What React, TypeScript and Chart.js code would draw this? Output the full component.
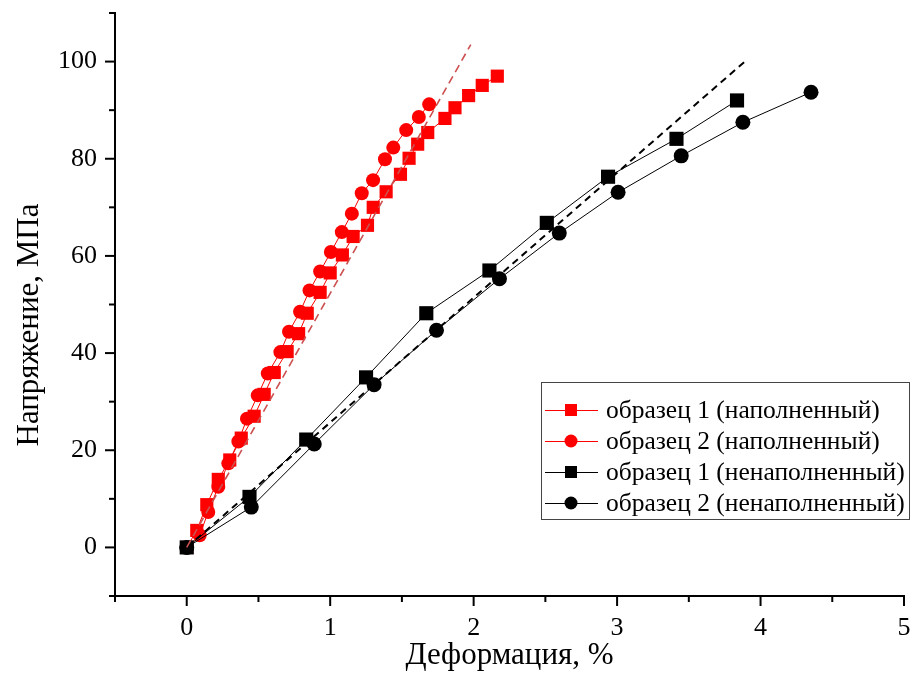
import React, { useEffect, useRef } from 'react';
import { Chart, registerables } from 'chart.js';

Chart.register(...registerables);

// ---- data ----
const filled1X = [0, 0.07, 0.14, 0.22, 0.3, 0.38, 0.47, 0.54, 0.61, 0.7, 0.78, 0.84, 0.93, 1.0, 1.085, 1.16, 1.26, 1.3, 1.39, 1.49, 1.55, 1.61, 1.68, 1.8, 1.87, 1.965, 2.06, 2.165];
const filled1Y = [0, 3.5, 8.8, 14, 18, 22.5, 27, 31.5, 36, 40.3, 44, 48.2, 52.5, 56.5, 60.2, 64, 66.3, 70, 73.2, 76.8, 80.1, 83, 85.4, 88.3, 90.5, 93, 95.1, 97];

const filled2X = [0, 0.09, 0.15, 0.22, 0.29, 0.36, 0.42, 0.495, 0.565, 0.653, 0.713, 0.79, 0.856, 0.93, 1.005, 1.081, 1.151, 1.22, 1.299, 1.382, 1.44, 1.53, 1.618, 1.69];
const filled2Y = [0, 2.5, 7.3, 12.5, 17.3, 21.8, 26.5, 31.3, 35.8, 40.2, 44.4, 48.5, 52.9, 56.8, 60.8, 64.9, 68.7, 72.9, 75.6, 79.9, 82.3, 85.9, 88.6, 91.2];

const unfilled1X = [0, 0.4375, 0.833, 1.25, 1.67, 2.11, 2.51, 2.937, 3.414, 3.836];
const unfilled1Y = [0, 10.4, 22.2, 35.0, 48.2, 57.0, 66.8, 76.3, 84.1, 92.0];

const unfilled2X = [0, 0.45, 0.889, 1.306, 1.741, 2.18, 2.597, 3.007, 3.447, 3.877, 4.352];
const unfilled2Y = [0, 8.3, 21.3, 33.5, 44.7, 55.3, 64.7, 73.1, 80.6, 87.5, 93.7];

const fitFilledX = [0, 1.98];
const fitFilledY = [0, 103.5];
const fitUnfilledX = [0, 3.89];
const fitUnfilledY = [0, 100];

const xTickLabels = [0, 1, 2, 3, 4, 5];
const yTickLabels = [0, 20, 40, 60, 80, 100];

const seriesNames = [
  'образец 1 (наполненный)',
  'образец 2 (наполненный)',
  'образец 1 (ненаполненный)',
  'образец 2 (ненаполненный)',
];
const xTitle = 'Деформация, %';
const yTitle = 'Напряжение, МПа';

const RED = '#ff0000';
const BLACK = '#000000';
const FONT = '"Liberation Serif", "Times New Roman", serif';

const pts = (xs: number[], ys: number[]) => xs.map((x, i) => ({ x, y: ys[i] }));

const legendItems = [
  { label: seriesNames[0], color: RED, style: 'rect' },
  { label: seriesNames[1], color: RED, style: 'circle' },
  { label: seriesNames[2], color: BLACK, style: 'rect' },
  { label: seriesNames[3], color: BLACK, style: 'circle' },
];

const decorPlugin = {
  id: 'decor',
  beforeDraw(chart: any) {
    const { ctx, width, height } = chart;
    ctx.save();
    ctx.fillStyle = '#ffffff';
    ctx.fillRect(0, 0, width, height);
    ctx.restore();
  },
  afterDraw(chart: any) {
    const { ctx, chartArea } = chart;
    const xs = chart.scales.x;
    const ys = chart.scales.y;
    ctx.save();
    ctx.strokeStyle = '#000';
    ctx.lineWidth = 2;
    ctx.setLineDash([]);
    xs.ticks.forEach((t: any) => {
      const px = xs.getPixelForValue(t.value);
      const major = xTickLabels.includes(t.value);
      ctx.beginPath();
      ctx.moveTo(px, chartArea.bottom);
      ctx.lineTo(px, chartArea.bottom + (major ? 10 : 6));
      ctx.stroke();
    });
    ys.ticks.forEach((t: any) => {
      const py = ys.getPixelForValue(t.value);
      const major = yTickLabels.includes(t.value);
      ctx.beginPath();
      ctx.moveTo(chartArea.left, py);
      ctx.lineTo(chartArea.left - (major ? 10 : 6), py);
      ctx.stroke();
    });

    // axis titles
    ctx.fillStyle = '#000';
    ctx.font = `31px ${FONT}`;
    ctx.textAlign = 'center';
    ctx.textBaseline = 'middle';
    ctx.fillText(xTitle, (chartArea.left + chartArea.right) / 2, 656);
    ctx.save();
    ctx.translate(30, 325);
    ctx.rotate(-Math.PI / 2);
    ctx.fillText(yTitle, 0, 0);
    ctx.restore();

    // legend
    const bx = 541, by = 382, bw = 368, bh = 137;
    ctx.strokeStyle = '#444';
    ctx.lineWidth = 1;
    ctx.strokeRect(bx + 0.5, by + 0.5, bw, bh);
    ctx.font = `25.5px ${FONT}`;
    ctx.textAlign = 'left';
    legendItems.forEach((it, i) => {
      const cy = 410 + i * 31;
      ctx.strokeStyle = it.color;
      ctx.fillStyle = it.color;
      ctx.lineWidth = 1;
      ctx.beginPath();
      ctx.moveTo(545, cy + 0.5);
      ctx.lineTo(598, cy + 0.5);
      ctx.stroke();
      if (it.style === 'rect') {
        ctx.fillRect(571 - 6, cy - 6, 12, 12);
      } else {
        ctx.beginPath();
        ctx.arc(571, cy, 6.5, 0, Math.PI * 2);
        ctx.fill();
      }
      ctx.fillStyle = '#000';
      ctx.fillText(it.label, 606, cy + 1);
    });
    ctx.restore();
  },
};

export default function App() {
  const ref = useRef<HTMLCanvasElement | null>(null);
  useEffect(() => {
    if (!ref.current) return;
    const markerDs = (data: any[], color: string, style: string, r: number) => ({
      data,
      showLine: true,
      borderColor: color,
      borderWidth: 1,
      backgroundColor: color,
      pointStyle: style,
      pointRadius: r,
      pointBackgroundColor: color,
      pointBorderColor: color,
      pointBorderWidth: 0,
      fill: false,
    });
    const chart = new Chart(ref.current, {
      type: 'scatter',
      data: {
        datasets: [
          {
            data: pts(fitFilledX, fitFilledY),
            showLine: true,
            borderColor: 'rgb(205,80,80)',
            borderWidth: 1.6,
            borderDash: [8, 5],
            pointRadius: 0,
            fill: false,
          },
          {
            data: pts(fitUnfilledX, fitUnfilledY),
            showLine: true,
            borderColor: '#000',
            borderWidth: 2,
            borderDash: [7, 5],
            pointRadius: 0,
            fill: false,
          },
          markerDs(pts(unfilled1X, unfilled1Y), BLACK, 'rect', 10),
          markerDs(pts(unfilled2X, unfilled2Y), BLACK, 'circle', 7.5),
          markerDs(pts(filled1X, filled1Y), RED, 'rect', 9.3),
          markerDs(pts(filled2X, filled2Y), RED, 'circle', 7),
        ] as any,
      },
      options: {
        responsive: false,
        animation: false,
        devicePixelRatio: 1,
        layout: { padding: { top: 13, right: 8, left: 0, bottom: 0 } },
        plugins: {
          legend: { display: false },
          tooltip: { enabled: false },
        },
        scales: {
          x: {
            type: 'linear',
            min: -0.5,
            max: 5,
            afterFit: (s: any) => {
              s.height = 97;
              s.paddingLeft = 0;
              s.paddingRight = 0;
            },
            ticks: {
              stepSize: 0.5,
              autoSkip: false,
              maxRotation: 0,
              padding: 17,
              color: '#000',
              font: { family: FONT, size: 26 },
              callback: (v: any) => (xTickLabels.includes(v) ? String(v) : ''),
            },
            grid: { display: false, drawTicks: false },
            border: { display: true, color: '#000', width: 2 },
          },
          y: {
            type: 'linear',
            min: -10,
            max: 110,
            afterFit: (s: any) => {
              s.width = 115;
              s.paddingTop = 0;
              s.paddingBottom = 0;
            },
            ticks: {
              stepSize: 10,
              autoSkip: false,
              padding: 18,
              color: '#000',
              font: { family: FONT, size: 26 },
              callback: (v: any) => (yTickLabels.includes(v) ? String(v) : ''),
            },
            grid: { display: false, drawTicks: false },
            border: { display: true, color: '#000', width: 2 },
          },
        },
      } as any,
      plugins: [decorPlugin],
    });
    return () => chart.destroy();
  }, []);
  return (
    <div style={{ position: 'absolute', left: 0, top: 0, width: 914, height: 693 }}>
      <canvas ref={ref} width={914} height={693} style={{ width: 914, height: 693 }} />
    </div>
  );
}
